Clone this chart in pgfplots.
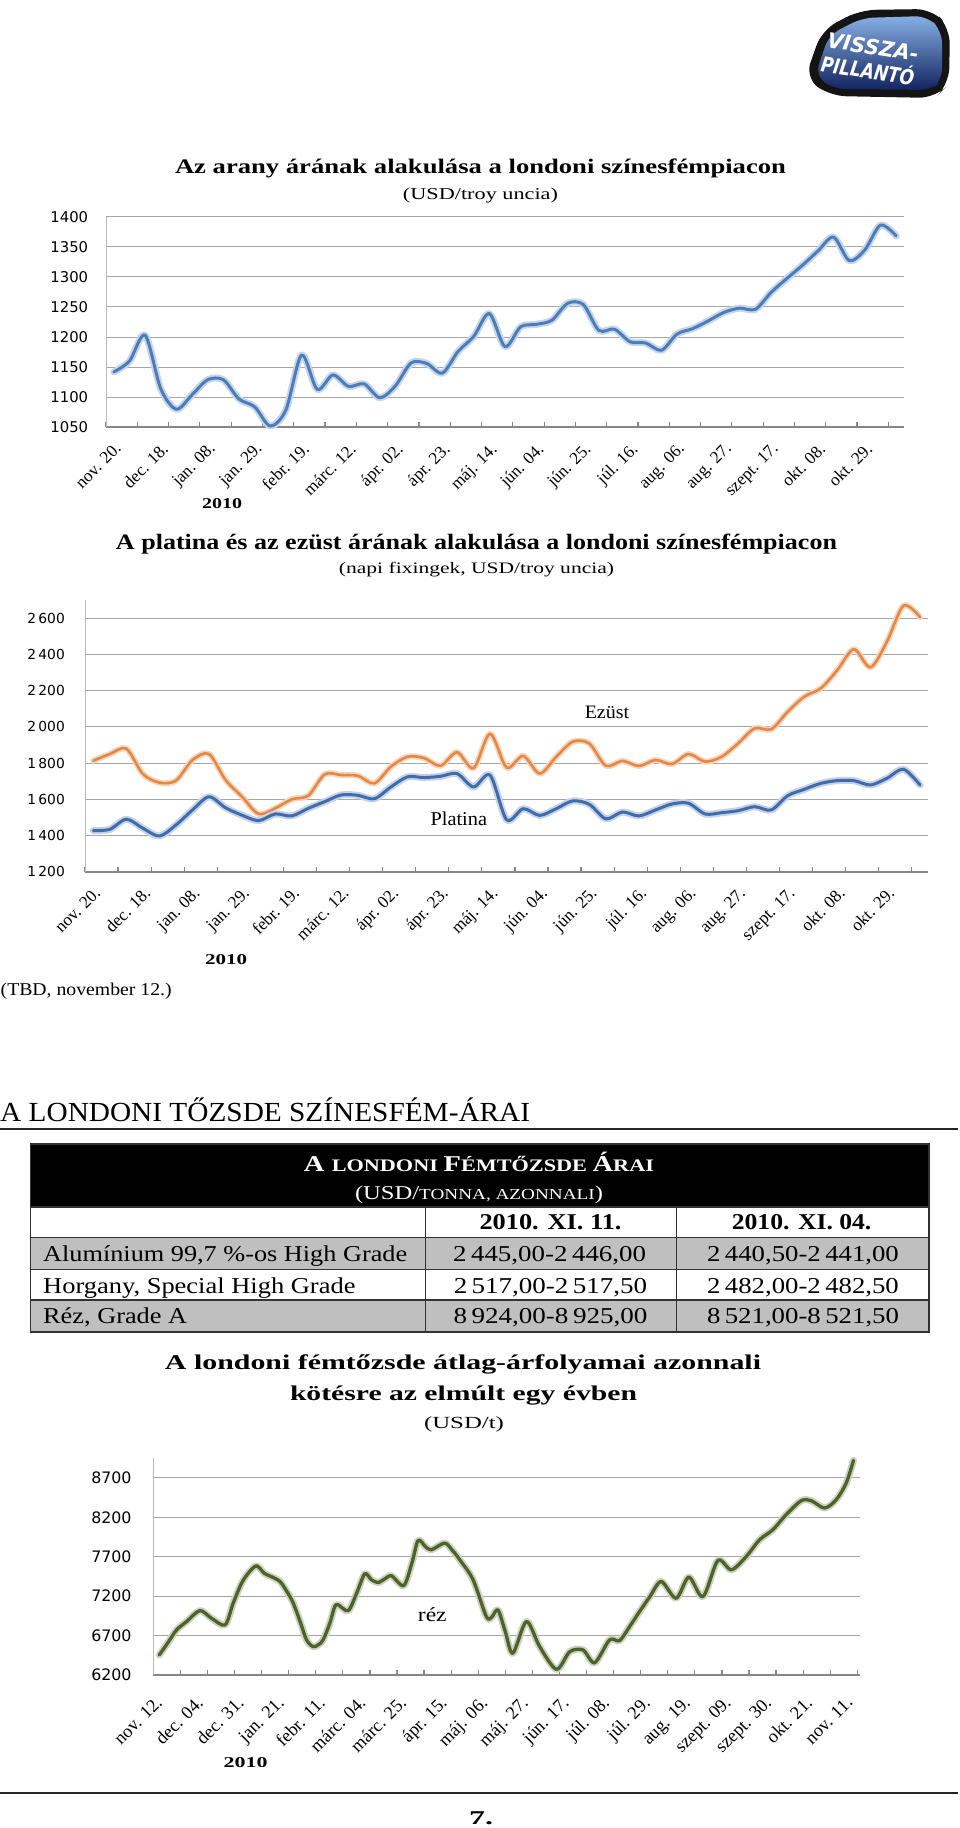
\documentclass[border=0pt]{standalone}
\usepackage{fontspec}
\setmainfont{Liberation Serif}
\newfontfamily\dejavu{DejaVu Sans}
\usepackage{graphicx}
\usepackage{pgfplots}
\usepackage{pgfplotstable}
\pgfplotsset{compat=1.18}
\newcommand\fs[1]{\fontsize{#1}{#1}\selectfont}
\newcommand\fitw[2]{\resizebox{#1pt}{\height}{#2}}

\definecolor{goldline}{RGB}{74,126,187}
\definecolor{goldglow}{RGB}{200,213,232}
\definecolor{silverline}{RGB}{230,136,66}
\definecolor{silverglow}{RGB}{242,214,194}
\definecolor{platline}{RGB}{62,108,172}
\definecolor{platglow}{RGB}{200,210,228}
\definecolor{copperline}{RGB}{79,98,40}
\definecolor{copperglow}{RGB}{204,210,194}
\definecolor{gridc}{RGB}{166,166,166}
\definecolor{axisc}{RGB}{134,134,134}

\pgfplotstableread{
x y
0 1142
1 1160
2 1203
3 1114
4 1080
5 1104
6 1129
7 1129
8 1097
9 1084
10 1052
11 1079
12 1170
13 1113
14 1137
15 1118
16 1122
17 1099
18 1119
19 1157
20 1156
21 1140
22 1176
23 1201
24 1239
25 1184
26 1217
27 1221
28 1228
29 1256
30 1254
31 1211
32 1213
33 1192
34 1190
35 1178
36 1205
37 1214
38 1227
39 1241
40 1248
41 1246
42 1274
43 1297
44 1319
45 1343
46 1366
47 1327
48 1345
49 1386
50 1368
}\golddata

\pgfplotstableread{
x y
0 1813
1 1850
2 1880
3 1740
4 1692
5 1703
6 1817
7 1850
8 1707
9 1614
10 1519
11 1550
12 1600
13 1620
14 1738
15 1734
16 1730
17 1688
18 1780
19 1835
20 1828
21 1785
22 1860
23 1772
24 1962
25 1775
26 1840
27 1742
28 1835
29 1918
30 1908
31 1785
32 1812
33 1784
34 1817
35 1795
36 1850
37 1808
38 1835
39 1909
40 1992
41 1987
42 2084
43 2167
44 2213
45 2314
46 2429
47 2329
48 2471
49 2670
50 2606
}\silverdata

\pgfplotstableread{
x y
0 1427
1 1434
2 1490
3 1440
4 1397
5 1458
6 1541
7 1614
8 1553
9 1512
10 1482
11 1519
12 1508
13 1550
14 1587
15 1624
16 1622
17 1603
18 1668
19 1724
20 1720
21 1727
22 1742
23 1668
24 1733
25 1487
26 1548
27 1511
28 1548
29 1591
30 1572
31 1492
32 1530
33 1508
34 1541
35 1574
36 1578
37 1519
38 1526
39 1537
40 1559
41 1541
42 1620
43 1655
44 1688
45 1703
46 1703
47 1679
48 1716
49 1766
50 1679
}\platdata

\pgfplotstableread{
x y
1.7 6454
5 6615
8.1 6772
11.8 6878
16.7 7017
21 6920
26 6836
29 7111
32.1 7365
35 7510
37.7 7585
40.5 7490
43 7450
46.3 7386
49 7250
51.2 7111
54 6850
56.1 6645
58.5 6560
60.5 6585
62.2 6645
64.7 6857
66.5 7068
67.8 7090
71.5 7017
74.6 7238
77.6 7484
80 7410
82.5 7373
85 7420
87.5 7458
92 7335
95 7620
97.3 7907
100 7830
102.2 7789
107.1 7874
110 7780
112.7 7662
117.6 7408
122.5 6941
124.5 6935
126.8 7026
129.5 6750
132.3 6476
137.3 6878
142.2 6560
148.4 6272
153.3 6496
158.2 6518
162.5 6356
168 6645
171.7 6636
175.4 6814
179.1 7005
183 7200
187.1 7386
192.6 7174
197.3 7442
202.5 7195
208 7653
213 7535
218.5 7704
223.4 7916
228.3 8043
233.2 8234
238.8 8412
242.5 8412
247.4 8319
251.7 8424
255.4 8636
258.1 8924
}\copperdata

\pgfplotsset{
  mychart/.style={
    scale only axis,
    anchor=south west,
    axis x line*=bottom, axis y line*=left,
    x axis line style={-, draw=axisc, line width=2pt},
    y axis line style={-, draw=gridc!80, line width=1pt},
    ymajorgrids, major grid style={draw=gridc, line width=1pt},
    major tick length=0pt, minor tick length=5pt,
    tick align=inside,
    minor tick style={draw=axisc, line width=1.2pt},
    yticklabel style={anchor=east, inner sep=0pt},
    xticklabel style={rotate=45, anchor=north east, inner sep=0pt},
    clip=false,
    every axis plot/.append style={smooth, line join=round, line cap=round},
  },
}

\begin{document}
\begin{tikzpicture}
\useasboundingbox (0,0) rectangle (960pt,1828pt);

% ---------- Chart 1: gold ----------
\begin{axis}[mychart, at={(106pt,1400.7pt)}, width=798pt, height=210.6pt,
  xmin=-0.5, xmax=50.5, ymin=1050, ymax=1400,
  ytick={1050,1100,...,1400},
  yticklabels={1050,1100,1150,1200,1250,1300,1350,1400},
  yticklabel style={font=\dejavu\fs{14.8}},
  yticklabel shift=17.7pt,
  xtick={0,3,...,48},
  xticklabels={nov. 20.,dec. 18.,jan. 08.,jan. 29.,febr. 19.,márc. 12.,ápr. 02.,ápr. 23.,máj. 14.,jún. 04.,jún. 25.,júl. 16.,aug. 06.,aug. 27.,szept. 17.,okt. 08.,okt. 29.},
  xticklabel style={font=\fs{17.2}},
  xticklabel shift=14pt,
  minor xtick={-0.5,1.5,...,49.5},
]
\addplot[goldglow, line width=7pt] table {\golddata};
\addplot[goldline, line width=3pt] table {\golddata};
\end{axis}

% ---------- Chart 2: platinum & silver ----------
\begin{axis}[mychart, at={(85pt,956.3pt)}, width=843.3pt, height=271.5pt,
  xmin=-0.5, xmax=50.5, ymin=1200, ymax=2700,
  ytick={1200,1400,...,2600},
  yticklabels={1\,200,1\,400,1\,600,1\,800,2\,000,2\,200,2\,400,2\,600},
  yticklabel style={font=\dejavu\fs{13.8}},
  yticklabel shift=20pt,
  xtick={0,3,...,48},
  xticklabels={nov. 20.,dec. 18.,jan. 08.,jan. 29.,febr. 19.,márc. 12.,ápr. 02.,ápr. 23.,máj. 14.,jún. 04.,jún. 25.,júl. 16.,aug. 06.,aug. 27.,szept. 17.,okt. 08.,okt. 29.},
  xticklabel style={font=\fs{17.2}},
  xticklabel shift=14pt,
  minor xtick={-0.5,1.5,...,49.5},
]
\addplot[silverglow, line width=6pt] table {\silverdata};
\addplot[silverline, line width=2.6pt] table {\silverdata};
\addplot[platglow, line width=7pt] table {\platdata};
\addplot[platline, line width=3pt] table {\platdata};
\end{axis}

% ---------- Chart 3: copper ----------
\begin{axis}[mychart, at={(153.3pt,153pt)}, width=706.7pt, height=216.7pt,
  xmin=-0.5, xmax=260.5, ymin=6200, ymax=8950,
  ytick={6200,6700,...,8700},
  yticklabels={6200,6700,7200,7700,8200,8700},
  yticklabel style={font=\dejavu\fs{15.8}},
  yticklabel shift=21.6pt,
  xtick={0,15,...,255},
  xticklabels={nov. 12.,dec. 04.,dec. 31.,jan. 21.,febr. 11.,márc. 04.,márc. 25.,ápr. 15.,máj. 06.,máj. 27.,jún. 17.,júl. 08.,júl. 29.,aug. 19.,szept. 09.,szept. 30.,okt. 21.,nov. 11.},
  xticklabel style={font=\fs{18.2}},
  xticklabel shift=20pt,
  minor xtick={-0.5,9.5,...,259.5},
]
\addplot[copperglow, line width=7pt] table {\copperdata};
\addplot[copperline, line width=3.3pt] table {\copperdata};
\end{axis}

\begin{scope}[x=1pt,y=1pt]
% ---------- Logo ----------
\fill[black!92, rounded corners=16pt] (805,1750) -- (822,1798) -- (860,1818) -- (932,1819) -- (950,1800) -- (949,1744) -- (935,1730) -- (830,1732) -- cycle;
\shade[top color={rgb,255:red,135;green,175;blue,228}, bottom color={rgb,255:red,18;green,36;blue,96}, rounded corners=12pt]
  (815,1752) -- (829,1793) -- (862,1810) -- (927,1812) -- (942,1797) -- (942,1747) -- (931,1738) -- (834,1739) -- cycle;
\node[white, inner sep=0, rotate=-9] at (873,1781) {\fitw{92}{\dejavu\fs{21}\bfseries\itshape VISSZA-}};
\node[white, inner sep=0, rotate=-9] at (868,1759) {\fitw{94}{\dejavu\fs{21}\bfseries\itshape PILLANTÓ}};

% ---------- Chart 1 texts ----------
\node[anchor=base, inner sep=0] at (480.5,1654.7) {\fitw{611}{\fs{20.7}\bfseries Az arany árának alakulása a londoni színesfémpiacon}};
\node[anchor=base, inner sep=0] at (480.5,1628.7) {\fitw{155}{\fs{16.6}(USD/troy uncia)}};
\node[anchor=base, inner sep=0] at (222,1319) {\fitw{40}{\fs{15}\bfseries 2010}};

% ---------- Chart 2 texts ----------
\node[anchor=base, inner sep=0] at (476.5,1278) {\fitw{721}{\fs{22}\bfseries A platina és az ezüst árának alakulása a londoni színesfémpiacon}};
\node[anchor=base, inner sep=0] at (476.5,1254.7) {\fitw{275}{\fs{16}(napi fixingek, USD/troy uncia)}};
\node[anchor=base, inner sep=0] at (607,1109) {\fitw{44.5}{\fs{19}Ezüst}};
\node[anchor=base, inner sep=0] at (458.8,1002) {\fitw{56.5}{\fs{19.6}Platina}};
\node[anchor=base, inner sep=0] at (226,863) {\fitw{42}{\fs{15}\bfseries 2010}};
\node[anchor=base west, inner sep=0] at (0.5,832) {\fitw{171}{\fs{18}(TBD, november 12.)}};

% ---------- Section header ----------
\node[anchor=base west, inner sep=0] at (0,706.3) {\fitw{530}{\fs{27.6}A LONDONI TŐZSDE SZÍNESFÉM-ÁRAI}};
\draw[black!85, line width=2pt] (0,699) -- (958,699);

% ---------- Table ----------
\fill[black] (30.6,621) rectangle (929,684);
\fill[gray!50] (30.6,558.7) rectangle (929,590.7);
\fill[gray!50] (30.6,496) rectangle (929,528);
\draw[black!80, line width=1.2pt] (30.6,496) rectangle (929,684);
\draw[black!80, line width=1.2pt] (30.6,621) -- (929,621);
\draw[black!80, line width=1.2pt] (30.6,590.7) -- (929,590.7);
\draw[black!80, line width=1.2pt] (30.6,558.7) -- (929,558.7);
\draw[black!80, line width=1.2pt] (30.6,528) -- (929,528);
\draw[black!80, line width=1.2pt] (425.6,496) -- (425.6,621);
\draw[black!80, line width=1.2pt] (676.7,496) -- (676.7,621);
\node[anchor=base, inner sep=0, white] at (479,656) {\fitw{350}{\bfseries{\fs{22.6}A }{\fs{17.6}LONDONI }{\fs{22.6}F}{\fs{17.6}ÉMTŐZSDE }{\fs{22.6}Á}{\fs{17.6}RAI}}};
\node[anchor=base, inner sep=0, white] at (479,628) {\fitw{248}{{\fs{19.6}(USD/}{\fs{15.3}TONNA, AZONNALI}{\fs{19.6})}}};
\node[anchor=base, inner sep=0] at (550.5,598) {\fitw{142}{\fs{22.6}\bfseries 2010. XI. 11.}};
\node[anchor=base, inner sep=0] at (801.6,598) {\fitw{139.6}{\fs{22.6}\bfseries 2010. XI. 04.}};
\node[anchor=base west, inner sep=0] at (43,566.3) {\fitw{364}{\fs{22.7}Alumínium 99,7 \%-os High Grade}};
\node[anchor=base, inner sep=0] at (549.6,566.3) {\fitw{193}{\fs{22.7}2\,445,00-2\,446,00}};
\node[anchor=base, inner sep=0] at (803,566.3) {\fitw{191.7}{\fs{22.7}2\,440,50-2\,441,00}};
\node[anchor=base west, inner sep=0] at (43,534.7) {\fitw{312.3}{\fs{22.7}Horgany, Special High Grade}};
\node[anchor=base, inner sep=0] at (550.5,534.7) {\fitw{193.5}{\fs{22.7}2\,517,00-2\,517,50}};
\node[anchor=base, inner sep=0] at (803,534.7) {\fitw{191.7}{\fs{22.7}2\,482,00-2\,482,50}};
\node[anchor=base west, inner sep=0] at (43,504.7) {\fitw{143.9}{\fs{22.7}Réz, Grade A}};
\node[anchor=base, inner sep=0] at (550.5,504.7) {\fitw{194}{\fs{22.7}8\,924,00-8\,925,00}};
\node[anchor=base, inner sep=0] at (803,504.7) {\fitw{192}{\fs{22.7}8\,521,00-8\,521,50}};

% ---------- Chart 3 texts ----------
\node[anchor=base, inner sep=0] at (463,458.7) {\fitw{596}{\fs{21}\bfseries A londoni fémtőzsde átlag-árfolyamai azonnali}};
\node[anchor=base, inner sep=0] at (463.5,427) {\fitw{347}{\fs{21}\bfseries kötésre az elmúlt egy évben}};
\node[anchor=base, inner sep=0] at (464,399) {\fitw{80}{\fs{17}(USD/t)}};
\node[anchor=base, inner sep=0] at (432.3,206) {\fitw{28.7}{\fs{20}réz}};
\node[anchor=base, inner sep=0] at (245.7,60) {\fitw{44}{\fs{15}\bfseries 2010}};

% ---------- Footer ----------
\draw[black!85, line width=2pt] (0,35) -- (958,35);
\node[anchor=base, inner sep=0] at (481,3.5) {\fitw{24}{\fs{19.5}\bfseries 7.}};
\end{scope}
\end{tikzpicture}
\end{document}
